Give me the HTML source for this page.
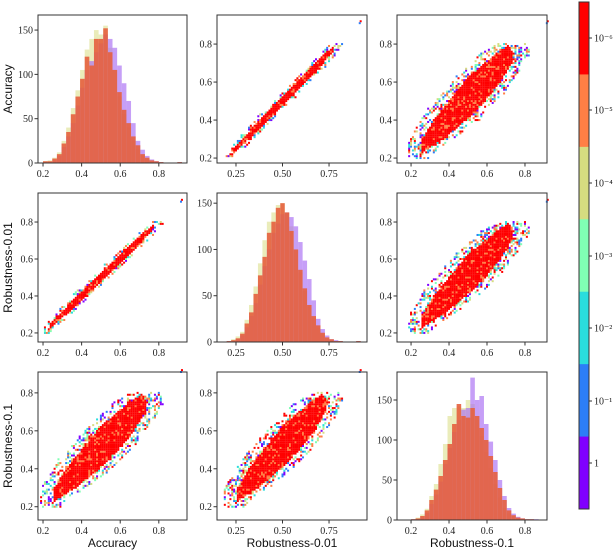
<!DOCTYPE html>
<html><head><meta charset="utf-8">
<style>
html,body{margin:0;padding:0;background:#fff;width:614px;height:552px;overflow:hidden}
svg{display:block}
.tk{font-family:"Liberation Serif",serif;font-size:10px;fill:#222}
.al{font-family:"Liberation Sans",sans-serif;font-size:12px;fill:#111}
</style></head>
<body>
<svg id="fig" width="614" height="552" xmlns="http://www.w3.org/2000/svg"></svg>
<script>
// ---- data ----
const variableNames = ["Accuracy", "Robustness-0.01", "Robustness-0.1"];
const binStart = 0.2;
const binWidth = 0.024;
const histRedAcc = [2,2,5,10,22,35,55,75,95,120,110,140,140,152,125,105,80,60,45,30,20,10,6,3,2,1,0,0,0,1];
const histPurpleAcc = [1,1,3,8,18,30,45,65,85,105,115,125,135,145,140,130,110,90,70,45,25,15,8,4,2,1,0,0,0,1];
const histPaleAcc = [2,3,6,12,25,40,62,82,105,128,140,150,145,155,130,105,75,55,40,25,15,8,4,2,1,1,0,0,0,1];
const histRedR001 = [1,2,4,9,20,32,52,72,92,118,130,145,150,140,120,100,78,58,40,28,18,10,5,3,1,1,0,0,0,1];
const histPurpleR001 = [1,1,3,7,16,28,42,62,82,100,118,128,138,140,135,125,108,88,68,45,25,14,7,3,2,1,0,0,0,1];
const histPaleR001 = [1,3,6,11,24,40,60,85,110,130,140,148,150,140,125,100,75,55,38,25,15,8,4,2,1,1,0,0,0,1];
const histRedR01 = [1,2,5,12,25,38,55,75,95,120,145,130,128,140,130,115,100,80,60,40,25,12,6,3,2,1,1,0,0,0];
const histPurpleR01 = [1,1,3,9,20,32,48,70,90,110,125,138,140,178,150,155,120,98,75,50,30,15,8,4,2,1,1,1,0,0];
const histPaleR01 = [1,3,7,14,30,45,70,95,130,140,142,140,150,145,125,105,85,65,45,28,15,8,4,2,1,1,0,0,0,0];
// scatter clouds: per y band, x extents of dense core and speckled edge
const tightBandY = [0.20,0.25,0.30,0.35,0.40,0.45,0.50,0.55,0.60,0.65,0.70,0.75,0.80];
const tightCoreLo = [0.22,0.24,0.285,0.33,0.375,0.425,0.475,0.525,0.575,0.625,0.675,0.73,0.79];
const tightCoreHi = [0.21,0.265,0.32,0.37,0.425,0.475,0.525,0.575,0.625,0.675,0.72,0.765,0.78];
const tightEdgeLo = [0.20,0.23,0.27,0.315,0.36,0.41,0.46,0.51,0.56,0.61,0.66,0.71,0.76];
const tightEdgeHi = [0.23,0.28,0.335,0.385,0.44,0.49,0.54,0.59,0.64,0.69,0.74,0.78,0.82];
const broadBandY = [0.20,0.25,0.30,0.35,0.40,0.45,0.50,0.55,0.60,0.65,0.70,0.75,0.80];
const broadCoreLo = [0.24,0.26,0.26,0.29,0.32,0.36,0.40,0.44,0.48,0.53,0.59,0.65,0.72];
const broadCoreHi = [0.23,0.29,0.37,0.43,0.49,0.54,0.59,0.63,0.67,0.70,0.73,0.74,0.71];
const broadEdgeLo = [0.20,0.19,0.20,0.23,0.26,0.29,0.33,0.38,0.42,0.47,0.52,0.58,0.66];
const broadEdgeHi = [0.29,0.33,0.42,0.48,0.55,0.60,0.65,0.69,0.72,0.76,0.79,0.82,0.80];
const outlierX = [0.92, 0.915];
const outlierY = [0.92, 0.91];
const cbarColors = ["#ff0000","#ff7f45","#d6dc80","#80ffb4","#2adddd","#2c7ef7","#8000ff"];
const cbarLabels = ["10\u207B\u2076","10\u207B\u2075","10\u207B\u2074","10\u207B\u00B3","10\u207B\u00B2","10\u207B\u00B9","1"];

// ---- layout ----
const colPx = [[38,187],[217,367],[397,547]];
const rowPx = [[15,163],[193,342],[372,520]];
const colDom = [[0.174,0.946],[0.148,0.954],[0.126,0.916]];
const rowDom = [[0.174,0.953],[0.151,0.957],[0.13,0.91]];
const histMax = [167,161,185];
const colTicks = [[0.2,0.4,0.6,0.8],[0.25,0.5,0.75],[0.2,0.4,0.6,0.8]];
const colTickLbl = [["0.2","0.4","0.6","0.8"],["0.25","0.50","0.75"],["0.2","0.4","0.6","0.8"]];
const NS = "http://www.w3.org/2000/svg";
const svg = document.getElementById("fig");
function mk(tag, attrs, parent){const e=document.createElementNS(NS,tag);for(const k in attrs)e.setAttribute(k,attrs[k]);(parent||svg).appendChild(e);return e;}
function lin(d,r){return v=>r[0]+(v-d[0])/(d[1]-d[0])*(r[1]-r[0]);}
function interp(ys,vals,y){
  if(y<=ys[0]) return vals[0];
  for(let b=0;b<ys.length-1;b++){ if(y<=ys[b+1]){const t=(y-ys[b])/(ys[b+1]-ys[b]);return vals[b]+(vals[b+1]-vals[b])*t;} }
  return vals[vals.length-1];
}
function hash(i,j){let h=(i*374761393+j*668265263)|0;h=(h^(h>>>13))*1274126177|0;return (h^(h>>>16))>>>0;}

const histSets = [
  [histPaleAcc,histPurpleAcc,histRedAcc],
  [histPaleR001,histPurpleR001,histRedR001],
  [histPaleR01,histPurpleR01,histRedR01]];
const histStyles = [["#d8dc82",0.55],["#a86cf2",0.65],["#e6603e",0.9]];
const speckle = ["#8000ff","#2c7ef7","#2adddd","#80ffb4","#d6dc80","#ff7f45","#ff0000"];

for(let r=0;r<3;r++){
  for(let c=0;c<3;c++){
    const g = mk("g",{});
    
    
    const [x0,x1]=colPx[c], [y0,y1]=rowPx[r];
    const sx = lin(colDom[c],[x0,x1]);
    let sy, yt, ytl;
    if(r===c){
      sy = lin([0,histMax[r]],[y1,y0]);
      yt=[0,50,100,150]; ytl=["0","50","100","150"];
      histSets[r].forEach((arr,si)=>{
        arr.forEach((v,i)=>{
          if(v<=0) return;
          const bx = sx(binStart+i*binWidth), bw = sx(binStart+(i+1)*binWidth)-bx;
          const rc = mk("rect",{x:bx,y:sy(v),width:bw,height:sy(0)-sy(v),fill:histStyles[si][0],"fill-opacity":histStyles[si][1]},g);
          
          
        });
      });
    } else {
      sy = lin(rowDom[r],[y1,y0]);
      yt=[0.2,0.4,0.6,0.8]; ytl=["0.2","0.4","0.6","0.8"];
      const tight = (r===0&&c===1)||(r===1&&c===0);
      const bY = tight?tightBandY:broadBandY, cL=tight?tightCoreLo:broadCoreLo, cH=tight?tightCoreHi:broadCoreHi, eL=tight?tightEdgeLo:broadEdgeLo, eH=tight?tightEdgeHi:broadEdgeHi;
      const step=0.01;
      const yA=bY[0], yB=bY[bY.length-1];
      for(let j=Math.round(yA*100); j<=Math.round(yB*100); j++){
        const yv=j/100;
        const lo=interp(bY,eL,yv), hi=interp(bY,eH,yv), clo=interp(bY,cL,yv), chi=interp(bY,cH,yv);
        for(let i=Math.floor(lo*100); i<=Math.ceil(hi*100); i++){
          const xv=i/100;
          const h=hash(i+r*17,j+c*31);
          const inCore = xv>=clo && xv<=chi;
          let col;
          if(inCore){ col = (h%7===0)?"#ff7f45":"#ff0000"; }
          else { if(h%5>1) continue; col = speckle[(h>>>4)%7]; }
          const p = mk("rect",{x:sx(xv)-1,y:sy(yv)-1,width:2,height:2,fill:col},g);
          
          
        }
      }
      outlierX.forEach((ov,i)=>{
        const p = mk("rect",{x:sx(ov)-1,y:sy(outlierY[i])-1,width:2,height:2,fill:i?"#2c7ef7":"#ff0000"},g);
        
        
      });
    }
    const fr = mk("rect",{x:x0,y:y0,width:x1-x0,height:y1-y0,fill:"none",stroke:"#333","stroke-width":1},g);
    
    
    colTicks[c].forEach((t,i)=>{
      const X=sx(t);
      mk("line",{x1:X,x2:X,y1:y1,y2:y1+3.5,stroke:"#333"},g);
      const tx=mk("text",{x:X,y:y1+14,"text-anchor":"middle",class:"tk"},g);
      tx.textContent=colTickLbl[c][i];
      
      
    });
    yt.forEach((t,i)=>{
      const Y=sy(t);
      mk("line",{x1:x0-3.5,x2:x0,y1:Y,y2:Y,stroke:"#333"},g);
      const tx=mk("text",{x:x0-5,y:Y+3.5,"text-anchor":"end",class:"tk"},g);
      tx.textContent=ytl[i];
      
      
    });
  }
}
variableNames.forEach((n,i)=>{
  const cx=(colPx[i][0]+colPx[i][1])/2;
  const t=mk("text",{x:cx,y:547,"text-anchor":"middle",class:"al"});
  t.textContent=n;
  
  
  const cy=(rowPx[i][0]+rowPx[i][1])/2;
  const t2=mk("text",{x:0,y:0,"text-anchor":"middle",class:"al",transform:"translate(12,"+cy+") rotate(-90)"});
  t2.textContent=n;
  
  
});
const cbTop=2, cbBot=509, cbX=579, cbW=10;
const segH=(cbBot-cbTop)/cbarColors.length;
const cbLabelY=[38,110,183,256,328,401,463];
cbarColors.forEach((col,i)=>{
  const s=mk("rect",{x:cbX,y:cbTop+i*segH,width:cbW,height:segH+0.5,fill:col});
  
  
  mk("line",{x1:cbX+cbW,x2:cbX+cbW+3,y1:cbLabelY[i],y2:cbLabelY[i],stroke:"#333"});
  const t=mk("text",{x:cbX+cbW+5,y:cbLabelY[i]+3.5,class:"tk"});
  t.textContent=cbarLabels[i];
  
  
});
const cbf=mk("rect",{x:cbX,y:cbTop,width:cbW,height:cbBot-cbTop,fill:"none",stroke:"#333"});


</script>
</body></html>
